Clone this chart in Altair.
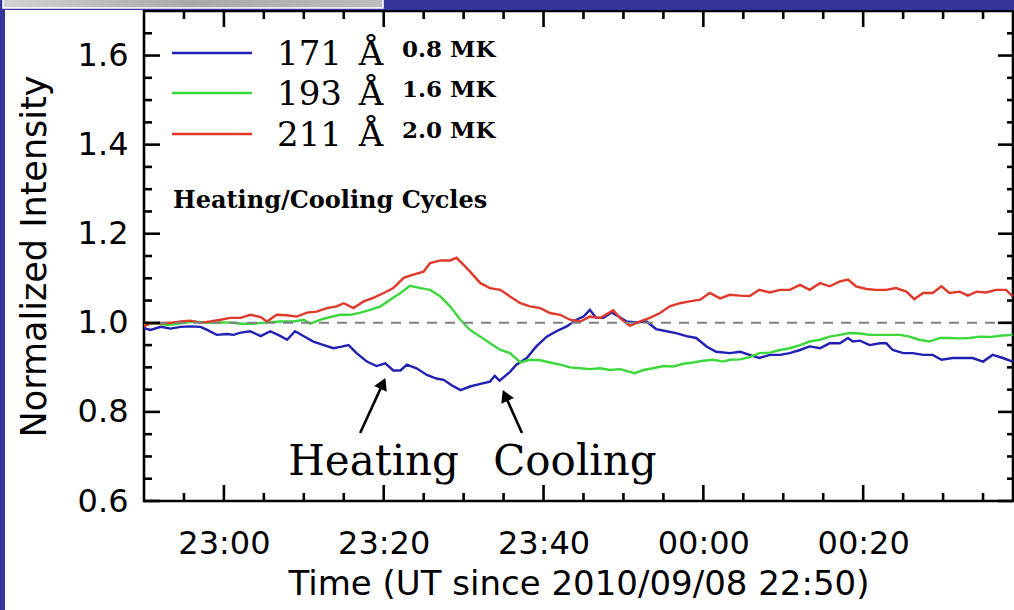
import altair as alt
import pandas as pd

# ---------------------------------------------------------------------------
# AIA light curves, normalized intensity, minutes after 2010-09-08 22:50 UT
# ---------------------------------------------------------------------------
t171 = [0.0, 0.8, 2.1, 3.3, 4.6, 5.8, 7.1, 7.9, 9.1, 10.4, 11.2, 12.1, 13.3, 14.6, 15.8,
        17.1, 17.9, 18.9, 20.0, 21.2, 22.5, 23.7, 24.6, 25.6, 26.6, 27.9, 29.1, 30.2, 31.2,
        32.1, 32.9, 34.1, 35.4, 36.6, 37.5, 38.5, 39.6, 40.8, 42.1, 43.3, 43.9, 44.5, 45.8,
        46.6, 47.9, 49.1, 50.4, 51.6, 52.9, 54.1, 55.0, 55.8, 56.6, 57.5, 58.5, 59.5, 60.4,
        61.6, 62.9, 64.1, 65.4, 66.6, 67.9, 69.1, 70.4, 71.6, 73.3, 74.6, 75.8, 77.0, 78.3,
        79.6, 80.8, 82.1, 83.3, 84.6, 85.8, 87.1, 88.1, 88.7, 89.6, 90.8, 92.1, 92.9, 93.7,
        95.0, 96.2, 97.5, 98.7, 99.8, 101.2, 102.5, 103.7, 105.0, 106.2, 107.5, 108.7]
i171 = [0.988, 0.984, 0.991, 0.987, 0.991, 0.992, 0.991, 0.984, 0.973, 0.975, 0.973, 0.978,
        0.981, 0.970, 0.981, 0.970, 0.962, 0.981, 0.970, 0.958, 0.950, 0.943, 0.946, 0.950,
        0.932, 0.913, 0.903, 0.909, 0.893, 0.893, 0.906, 0.898, 0.883, 0.875, 0.872, 0.860,
        0.849, 0.857, 0.863, 0.868, 0.881, 0.870, 0.890, 0.906, 0.921, 0.947, 0.969, 0.981,
        0.992, 1.007, 1.014, 1.029, 1.011, 1.011, 1.023, 1.013, 1.003, 1.001, 1.003, 0.986,
        0.981, 0.977, 0.970, 0.966, 0.947, 0.935, 0.932, 0.935, 0.928, 0.921, 0.928, 0.928,
        0.932, 0.939, 0.947, 0.943, 0.954, 0.954, 0.966, 0.958, 0.960, 0.950, 0.954, 0.954,
        0.939, 0.932, 0.932, 0.928, 0.928, 0.917, 0.921, 0.921, 0.921, 0.913, 0.928, 0.921,
        0.913]

t193 = [0.0, 1.3, 3.0, 4.6, 6.2, 7.9, 9.6, 11.2, 12.1, 13.7, 15.4, 17.1, 18.7, 20.0, 20.8,
        22.1, 23.3, 24.6, 25.8, 27.1, 28.3, 29.6, 30.8, 32.1, 33.3, 34.6, 35.8, 37.1, 38.3,
        39.6, 40.8, 42.1, 43.3, 44.6, 45.8, 47.1, 48.3, 49.6, 50.8, 52.1, 53.3, 54.6, 55.8,
        57.1, 58.3, 59.6, 60.8, 61.4, 62.5, 63.7, 65.0, 66.2, 67.5, 68.7, 70.0, 71.2, 72.5,
        73.3, 74.6, 75.8, 77.0, 78.3, 79.6, 80.8, 82.1, 83.3, 84.6, 85.8, 87.1, 88.3, 89.6,
        90.8, 92.1, 93.3, 94.6, 95.8, 97.0, 98.3, 99.6, 100.8, 102.1, 103.3, 104.6, 105.8,
        107.1, 108.7]
i193 = [0.995, 0.999, 0.995, 0.999, 1.003, 1.000, 1.001, 1.000, 0.998, 0.998, 1.001, 1.003,
        1.003, 1.007, 0.998, 1.007, 1.013, 1.018, 1.018, 1.023, 1.029, 1.037, 1.052, 1.067,
        1.083, 1.078, 1.074, 1.059, 1.037, 1.007, 0.984, 0.969, 0.954, 0.939, 0.932, 0.911,
        0.917, 0.916, 0.911, 0.906, 0.900, 0.898, 0.896, 0.898, 0.894, 0.896, 0.890, 0.887,
        0.894, 0.898, 0.903, 0.902, 0.908, 0.911, 0.915, 0.917, 0.913, 0.917, 0.918, 0.923,
        0.932, 0.933, 0.939, 0.943, 0.950, 0.958, 0.962, 0.969, 0.973, 0.977, 0.976, 0.973,
        0.973, 0.973, 0.973, 0.969, 0.962, 0.958, 0.966, 0.966, 0.965, 0.966, 0.969, 0.968,
        0.971, 0.973]

t211 = [0.0, 0.8, 2.1, 3.3, 4.6, 5.8, 7.1, 8.3, 9.6, 10.8, 12.1, 13.3, 14.6, 15.4, 16.6,
        17.9, 19.1, 20.4, 21.6, 22.9, 24.1, 25.0, 26.2, 27.5, 28.7, 30.0, 31.2, 32.5, 33.7,
        35.0, 35.8, 37.1, 38.3, 39.1, 40.0, 40.8, 42.1, 43.3, 44.6, 45.8, 47.1, 48.3, 49.6,
        50.8, 52.1, 53.3, 54.6, 55.8, 57.1, 58.7, 59.8, 60.8, 62.1, 63.3, 64.6, 65.8, 67.1,
        68.3, 69.6, 70.8, 72.1, 73.3, 74.6, 75.8, 77.0, 78.3, 79.6, 80.8, 82.1, 83.3, 84.6,
        85.8, 87.1, 88.1, 89.1, 90.4, 91.6, 92.9, 94.1, 95.4, 96.4, 97.5, 98.7, 99.8, 100.8,
        102.1, 103.1, 104.2, 105.4, 106.6, 107.9, 108.7]
i211 = [0.992, 0.999, 0.999, 1.000, 1.003, 1.005, 1.000, 1.003, 1.007, 1.011, 1.011, 1.018,
        1.013, 1.003, 1.018, 1.017, 1.014, 1.023, 1.025, 1.033, 1.037, 1.044, 1.033, 1.048,
        1.056, 1.067, 1.078, 1.101, 1.108, 1.115, 1.134, 1.140, 1.140, 1.146, 1.130, 1.115,
        1.089, 1.078, 1.074, 1.059, 1.044, 1.037, 1.033, 1.022, 1.018, 1.007, 1.003, 1.014,
        1.011, 1.028, 1.007, 0.993, 1.003, 1.011, 1.022, 1.037, 1.044, 1.048, 1.052, 1.067,
        1.055, 1.063, 1.061, 1.060, 1.074, 1.068, 1.074, 1.074, 1.085, 1.074, 1.089, 1.082,
        1.093, 1.097, 1.082, 1.076, 1.074, 1.074, 1.078, 1.070, 1.053, 1.067, 1.067, 1.082,
        1.067, 1.070, 1.061, 1.070, 1.068, 1.074, 1.074, 1.059]

channels = ["171", "193", "211"]
temperatures = ["0.8 MK", "1.6 MK", "2.0 MK"]
line_colors = ["#2020b2", "#3ad83a", "#e0392a"]

# x axis: minutes after 22:50 for major (labelled) and minor ticks, and the window end
major_minutes = [10, 30, 50, 70, 90]
minor_minutes = [5, 15, 20, 25, 35, 40, 45, 55, 60, 65, 75, 80, 85, 95, 100, 105]
t_end = 108.75

# y axis ticks
y_major = [0.6, 0.8, 1.0, 1.2, 1.4, 1.6]
y_minor = [0.65, 0.7, 0.75, 0.85, 0.9, 0.95, 1.05, 1.1, 1.15, 1.25, 1.3, 1.35, 1.45,
           1.5, 1.55, 1.65]

# annotation arrows (tail -> head centre), minutes / intensity
arrow_labels = ["Heating", "Cooling"]
arrow_tail_t = [27.05, 47.3]
arrow_tail_v = [0.7525, 0.7525]
arrow_head_t = [29.9, 45.2]
arrow_head_v = [0.864, 0.837]
arrow_angle = [24, 336]
label_t = [18.05, 43.7]
label_v = [0.658, 0.658]

BASE = pd.Timestamp("2010-09-08 22:50:00")
SANS = "DejaVu Sans"
SERIF = "DejaVu Serif"
W, H = 869, 490


def stamp(minutes):
    return (BASE + pd.Timedelta(minutes=minutes)).strftime("%Y-%m-%dT%H:%M:%SZ")


def dt(minutes):
    ts = BASE + pd.Timedelta(minutes=minutes)
    return alt.DateTime(year=ts.year, month=ts.month, date=ts.day, hours=ts.hour,
                        minutes=ts.minute, seconds=ts.second, utc=True)


rows = []
for ch, ts, vs in zip(channels, [t171, t193, t211], [i171, i193, i211]):
    for t, v in zip(ts, vs):
        rows.append({"time": stamp(t), "intensity": v, "channel": ch})
curves = pd.DataFrame(rows)

x_scale = alt.Scale(type="utc", domain=[dt(0), dt(t_end)])
y_scale = alt.Scale(domain=[0.6, 1.7], nice=False, zero=False)


def xenc(field, axis=None):
    return alt.X(f"{field}:T", scale=x_scale, axis=axis)


def yenc(field, axis=None):
    return alt.Y(f"{field}:Q", scale=y_scale, axis=axis)


ax_bottom = alt.Axis(orient="bottom", values=[dt(m) for m in major_minutes],
                     ticks=False, tickSize=0, domain=False, grid=False,
                     labelExpr="utcFormat(datum.value, '%H:%M')",
                     labelFont=SANS, labelFontSize=32, labelColor="black", labelPadding=27,
                     title="Time (UT since 2010/09/08 22:50)", titleFont=SANS,
                     titleFontSize=34, titleFontWeight="normal", titleColor="black",
                     titlePadding=8)
ax_left = alt.Axis(orient="left", values=y_major, ticks=False, tickSize=0, domain=False,
                   grid=False, format=".1f", labelFont=SANS, labelFontSize=32,
                   labelColor="black", labelPadding=16,
                   title="Normalized Intensity", titleFont=SANS, titleFontSize=35,
                   titleFontWeight="normal", titleColor="black", titlePadding=25)

color = alt.Color("channel:N", scale=alt.Scale(domain=channels, range=line_colors),
                  legend=None)

lines = alt.Chart(curves).mark_line(strokeWidth=2.4).encode(
    x=xenc("time", ax_bottom), y=yenc("intensity", ax_left), color=color,
    detail="channel:N")

ref = alt.Chart(pd.DataFrame({"level": [1.0]})).mark_rule(
    color="#808080", strokeWidth=2, strokeDash=[10, 8]).encode(y=yenc("level"))

# inward-pointing ticks on all four sides of the frame
x_major_df = pd.DataFrame({"time": [stamp(m) for m in major_minutes]})
x_minor_df = pd.DataFrame({"time": [stamp(m) for m in minor_minutes]})
y_major_df = pd.DataFrame({"level": y_major})
y_minor_df = pd.DataFrame({"level": y_minor})
tick = dict(color="black", strokeWidth=2.6)


def xticks(df, y0, y1):
    return alt.Chart(df).mark_rule(**tick).encode(
        x=xenc("time"), y=alt.value(y0), y2=alt.value(y1))


def yticks(df, x0, x1):
    return alt.Chart(df).mark_rule(**tick).encode(
        y=yenc("level"), x=alt.value(x0), x2=alt.value(x1))


tick_layers = [
    xticks(x_major_df, H, H - 16), xticks(x_minor_df, H, H - 8),
    xticks(x_major_df, 0, 16), xticks(x_minor_df, 0, 8),
    yticks(y_major_df, 0, 16), yticks(y_minor_df, 0, 8),
    yticks(y_major_df, W, W - 15), yticks(y_minor_df, W, W - 6),
]

arrows = pd.DataFrame({
    "label": arrow_labels,
    "t0": [stamp(t) for t in arrow_tail_t], "v0": arrow_tail_v,
    "t1": [stamp(t) for t in arrow_head_t], "v1": arrow_head_v,
    "lt": [stamp(t) for t in label_t], "lv": label_v,
    "angle": arrow_angle,
})
shafts = alt.Chart(arrows).mark_rule(color="black", strokeWidth=2.6).encode(
    x=xenc("t0"), x2="t1:T", y=yenc("v0"), y2="v1:Q")
heads = alt.Chart(arrows).mark_point(
    shape="triangle-up", filled=True, color="black", size=190, opacity=1).encode(
    x=xenc("t1"), y=yenc("v1"), angle=alt.Angle("angle:Q", scale=None))
arrow_text = alt.Chart(arrows).mark_text(
    font=SERIF, fontSize=42, align="left", baseline="alphabetic", color="black").encode(
    x=xenc("lt"), y=yenc("lv"), text="label:N")

# hand-built legend in the upper-left corner of the plot
one = alt.Data(values=[{}])
legend_rows_y = [42, 82, 123]
legend_layers = []
for ch, temp, col, yy in zip(channels, temperatures, line_colors, legend_rows_y):
    legend_layers.append(alt.Chart(one).mark_rule(color=col, strokeWidth=2.6).encode(
        x=alt.value(28), x2=alt.value(108), y=alt.value(yy)))
    legend_layers.append(alt.Chart(one).mark_text(
        text=ch, font=SERIF, fontSize=34, align="left", baseline="alphabetic",
        color="black").encode(x=alt.value(133), y=alt.value(yy + 12)))
    legend_layers.append(alt.Chart(one).mark_text(
        text="Å", font=SERIF, fontSize=34, align="center", baseline="alphabetic",
        color="black").encode(x=alt.value(227), y=alt.value(yy + 12)))
    legend_layers.append(alt.Chart(one).mark_text(
        text=temp, font=SERIF, fontSize=23, fontWeight="bold", align="left",
        baseline="alphabetic", color="black").encode(x=alt.value(258), y=alt.value(yy + 4)))

cycles = alt.Chart(one).mark_text(
    text="Heating/Cooling Cycles", font=SERIF, fontSize=24, fontWeight="bold",
    align="left", baseline="alphabetic", color="black").encode(
    x=alt.value(29), y=alt.value(197))

# slide frame around the figure
frame_blue = "#34349a"
left_strip = alt.Chart(one).mark_rect(color=frame_blue).encode(
    x=alt.value(-144), x2=alt.value(-139), y=alt.value(-11), y2=alt.value(600))
top_strip = alt.Chart(one).mark_rect(color=frame_blue).encode(
    x=alt.value(-144), x2=alt.value(870), y=alt.value(-11), y2=alt.value(-1))
grey_box = alt.Chart(one).mark_rect(
    fill=alt.Gradient(gradient="linear", x1=0, x2=1, y1=0, y2=0,
                      stops=[alt.GradientStop(color="#d2d2d2", offset=0),
                             alt.GradientStop(color="#a9a9a9", offset=0.5),
                             alt.GradientStop(color="#bdbdbd", offset=1)]),
    stroke="white", strokeWidth=1.5).encode(
    x=alt.value(-141), x2=alt.value(239), y=alt.value(-14), y2=alt.value(-3))

chart = alt.layer(
    lines, left_strip, top_strip, grey_box,
    ref, *tick_layers,
    shafts, heads, arrow_text, cycles, *legend_layers,
).resolve_axis(
    x="independent", y="independent"
).properties(
    width=W, height=H,
    padding={"left": 144, "top": 11, "right": 1, "bottom": 109},
    autosize=alt.AutoSizeParams(type="none"),
    background="white",
).configure_view(stroke="black", strokeWidth=2.6)

chart.save("out.html", embed_options={"renderer": "svg", "actions": False})
